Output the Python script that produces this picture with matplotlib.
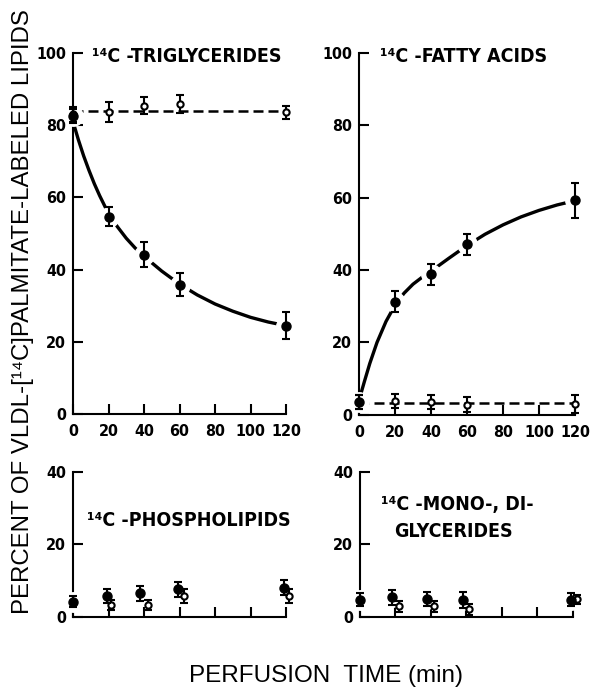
import numpy as np
import matplotlib
matplotlib.use("Agg")
import matplotlib.pyplot as plt

# time points (min)
t = [0, 20, 40, 60, 120]

# 14C-triglycerides
tg_closed = [82.5, 54.7, 44.2, 35.8, 24.5]
tg_closed_err = [2.0, 2.6, 3.5, 3.2, 3.7]
tg_open = [83.0, 83.7, 85.4, 85.8, 83.6]
tg_open_err = [2.0, 2.7, 2.4, 2.5, 1.8]
tg_fit_t = [0, 3, 6, 9, 12, 15, 20, 25, 30, 35, 40, 50, 60, 70, 80, 90, 100, 110, 120]
tg_fit = [81.0, 76.0, 71.5, 67.5, 63.8, 60.5, 55.5, 51.9, 48.7, 46.0, 43.7,
          39.6, 36.0, 33.0, 30.5, 28.5, 26.8, 25.5, 24.5]
tg_open_level = 84.0

# 14C-fatty acids
fa_closed = [3.5, 31.3, 38.8, 47.2, 59.3]
fa_closed_err = [2.0, 2.9, 3.0, 2.9, 4.9]
fa_open = [3.5, 3.8, 3.5, 2.8, 3.0]
fa_open_err = [2.0, 2.0, 2.0, 2.0, 2.5]
fa_fit_t = [0, 3, 6, 10, 15, 20, 25, 30, 35, 40, 50, 60, 70, 80, 90, 100, 110, 120]
fa_fit = [4.0, 9.2, 14.2, 20.0, 25.8, 30.3, 33.6, 36.1, 38.0, 39.7,
          43.3, 46.8, 49.9, 52.5, 54.7, 56.5, 58.0, 59.2]
fa_open_level = 3.3

# 14C-phospholipids
pl_t_closed = [0, 19, 38, 59, 119]
pl_closed = [4.2, 5.8, 6.5, 7.6, 8.1]
pl_closed_err = [1.5, 2.0, 2.1, 2.1, 2.0]
pl_t_open = [21.5, 42, 62.5, 121.5]
pl_open = [3.3, 3.3, 5.8, 5.8]
pl_open_err = [1.5, 1.5, 2.0, 2.0]

# 14C-mono-, diglycerides
mg_t_closed = [0, 18, 38, 58, 119]
mg_closed = [4.7, 5.4, 5.0, 4.7, 4.7]
mg_closed_err = [1.8, 2.0, 2.0, 2.3, 1.8]
mg_t_open = [22, 41.5, 61.5, 122]
mg_open = [3.0, 3.0, 2.1, 4.9]
mg_open_err = [1.5, 1.5, 1.5, 1.2]

bold = dict(family='DejaVu Sans', fontweight='bold', fontstretch='condensed')

fig = plt.figure(figsize=(6.05, 6.89), dpi=100)
ax_tg = fig.add_axes([0.1207, 0.399, 0.355, 0.524])
ax_fa = fig.add_axes([0.5934, 0.398, 0.360, 0.525])
ax_pl = fig.add_axes([0.1207, 0.1045, 0.355, 0.2105])
ax_mg = fig.add_axes([0.5950, 0.1045, 0.355, 0.2105])


def style(ax, ymax, yticks, xlabels=True):
    ax.set_xlim(0, 121)
    ax.set_ylim(0, ymax)
    for s in ['top', 'right']:
        ax.spines[s].set_visible(False)
    for s in ['left', 'bottom']:
        ax.spines[s].set_linewidth(1.5)
    ax.spines['bottom'].set_bounds(0, 120)
    ax.set_xticks([0, 20, 40, 60, 80, 100, 120])
    ax.set_yticks(yticks)
    ax.tick_params(direction='in', length=7, width=1.5)
    ax.tick_params(axis='x', pad=7)
    ax.tick_params(axis='y', pad=5)
    if not xlabels:
        ax.set_xticklabels([])
    for lab in ax.get_xticklabels() + ax.get_yticklabels():
        lab.set_fontsize(11.5)
        lab.set_fontweight('bold')
        lab.set_fontstretch('condensed')
    ax.patch.set_alpha(0)


def points(ax, x, y, err, filled):
    if filled:
        ax.plot(x, y, 'o', ms=14, color='white', zorder=3, clip_on=False)
        ax.errorbar(x, y, yerr=err, fmt='o', ms=6.5, color='black', ecolor='black',
                    elinewidth=1.5, capsize=3, capthick=1.5, zorder=5, clip_on=False)
    else:
        ax.errorbar(x, y, yerr=err, fmt='o', ms=4.5, mfc='white', mec='black', mew=1.5,
                    ecolor='black', elinewidth=1.5, capsize=3, capthick=1.5, zorder=4,
                    clip_on=False)


# triglycerides
ax_tg.plot(tg_fit_t, tg_fit, color='black', lw=2.4, zorder=2, solid_capstyle='butt')
ax_tg.plot([0, 120], [tg_open_level, tg_open_level], color='black', lw=1.8,
           ls=(0, (4, 2)), zorder=2)
points(ax_tg, t, tg_open, tg_open_err, False)
points(ax_tg, t, tg_closed, tg_closed_err, True)
style(ax_tg, 100, [0, 20, 40, 60, 80, 100])
ax_tg.text(10.5, 99, '¹⁴C -TRIGLYCERIDES', fontsize=14, va='center', **bold)

# fatty acids
ax_fa.plot(fa_fit_t, fa_fit, color='black', lw=2.4, zorder=2, solid_capstyle='butt')
ax_fa.plot([0, 120], [fa_open_level, fa_open_level], color='black', lw=1.8,
           ls=(0, (4, 2)), zorder=2)
points(ax_fa, t, fa_open, fa_open_err, False)
points(ax_fa, t, fa_closed, fa_closed_err, True)
style(ax_fa, 100, [0, 20, 40, 60, 80, 100])
ax_fa.text(11.5, 99, '¹⁴C -FATTY ACIDS', fontsize=14, va='center', **bold)

# phospholipids
points(ax_pl, pl_t_open, pl_open, pl_open_err, False)
points(ax_pl, pl_t_closed, pl_closed, pl_closed_err, True)
style(ax_pl, 40, [0, 20, 40], xlabels=False)
ax_pl.text(7.8, 26.7, '¹⁴C -PHOSPHOLIPIDS', fontsize=14, va='center', **bold)

# mono-, diglycerides
points(ax_mg, mg_t_open, mg_open, mg_open_err, False)
points(ax_mg, mg_t_closed, mg_closed, mg_closed_err, True)
style(ax_mg, 40, [0, 20, 40], xlabels=False)
ax_mg.text(12, 30.9, '¹⁴C -MONO-, DI-', fontsize=14, va='center', **bold)
ax_mg.text(19.5, 23.5, 'GLYCERIDES', fontsize=14, va='center', **bold)

fig.text(0.038, 0.548, 'PERCENT OF VLDL-[¹⁴C]PALMITATE-LABELED LIPIDS',
         rotation=90, ha='center', va='center', fontsize=17.3,
         family=['Liberation Sans', 'DejaVu Sans'])
fig.text(0.539, 0.019, 'PERFUSION  TIME (min)', ha='center', va='center',
         fontsize=17.5, family=['Liberation Sans', 'DejaVu Sans'])

fig.savefig('out.png', dpi=100)
